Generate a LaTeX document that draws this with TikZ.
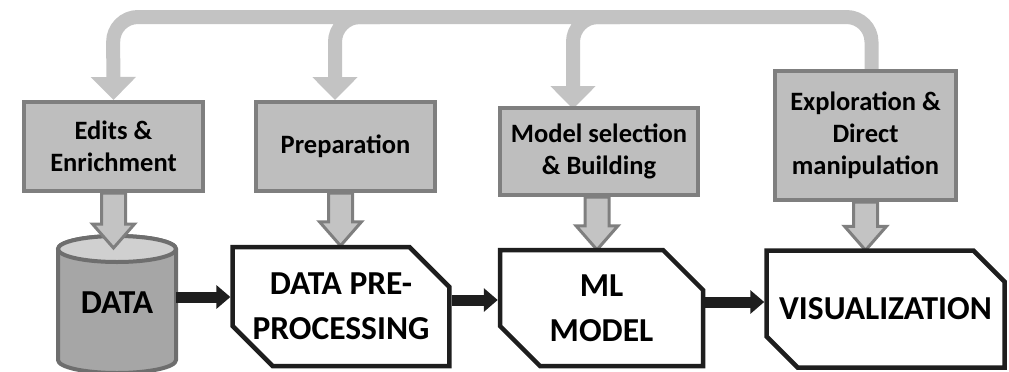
\documentclass[tikz,border=0pt]{standalone}
\usepackage{fontspec}
\setmainfont{Carlito}
\usetikzlibrary{arrows.meta,shapes.misc,backgrounds,calc}
\definecolor{boxfill}{HTML}{BEBEBE}
\definecolor{boxline}{HTML}{7F7F7F}
\definecolor{loopcol}{HTML}{C3C3C3}
\definecolor{cylbody}{HTML}{A6A6A6}
\definecolor{cyltop}{HTML}{D0D0D0}
\definecolor{cylline}{HTML}{6E6E6E}
\definecolor{darkline}{HTML}{1E1E1E}
\newcommand\blockarr[2]{%
  \path[blockarrow] let \p1=(#1), \p2=(#2) in
    (\x1-12pt,\y1) -- (\x1-12pt,\y2+24pt) -- (\x1-21pt,\y2+24pt) -- (\x1,\y2)
    -- (\x1+21pt,\y2+24pt) -- (\x1+12pt,\y2+24pt) -- (\x1+12pt,\y1) -- cycle;}
\begin{document}
\begin{tikzpicture}[x=1pt,y=1pt,
  gbox/.style={draw=boxline, fill=boxfill, line width=4pt, align=center,
    inner sep=0pt, font=\fontsize{26.5}{32}\selectfont\bfseries},
  cbox/.style={chamfered rectangle,
    chamfered rectangle corners={north east,south west},
    chamfered rectangle xsep=20pt, chamfered rectangle ysep=20pt,
    draw=darkline, line width=4.5pt, fill=white, align=center, inner sep=0pt,
    font=\fontsize{33.5}{45}\selectfont\bfseries},
  loopline/.style={draw=loopcol, line width=14pt, rounded corners=25pt},
  looptip/.style={-{Triangle[width=44pt,length=23pt]}},
  blockarrow/.style={fill=loopcol, draw=boxline, line width=3pt, line join=miter},
  blk/.style={draw=darkline, line width=11pt, -{Triangle[width=23pt,length=14pt]}}
]
\useasboundingbox (0,0) rectangle (1009,-372);

% upper gray boxes
\node[gbox, minimum width=179pt, minimum height=89pt] (edits) at (113.5,-146.5) {Edits \&\\Enrichment};
\node[gbox, minimum width=179pt, minimum height=89pt] (prep) at (345.5,-146.5) {Preparation};
\node[gbox, minimum width=198pt, minimum height=87pt] (modsel) at (599,-151.5) {Model selection\\\& Building};
\node[gbox, minimum width=181pt, minimum height=129pt] (explo) at (865.5,-135.5) {Exploration \&\\Direct\\manipulation};

% data cylinder
\node[minimum width=118pt, minimum height=130pt, inner sep=0pt,
  font=\fontsize{33.5}{45}\selectfont\bfseries] (data) at (117,-303) {DATA};
\begin{scope}[on background layer]
  \path[fill=cylbody, draw=cylline, line width=4pt]
    (58,-249) -- (58,-360) arc[start angle=180, end angle=360, x radius=59, y radius=13]
    -- (176,-249) arc[start angle=0, end angle=180, x radius=59, y radius=13];
  \path[fill=cyltop, draw=cylline, line width=4pt]
    (117,-249) ellipse[x radius=59, y radius=13];
\end{scope}

% lower white boxes
\node[cbox, minimum width=208pt, minimum height=119pt] (pre) at (341,-306.5) {DATA PRE-\\PROCESSING};
\node[cbox, minimum width=203pt, minimum height=116pt] (ml) at (601.5,-308) {ML\\MODEL};
\node[cbox, minimum width=238pt, minimum height=117pt] (vis) at (885.5,-309) {VISUALIZATION};

% top feedback loop
\begin{scope}[on background layer]
  \draw[loopline, looptip] ([xshift=6pt]explo.north) -- ++(0,-1) |- (113,-17) -- (edits.north);
  \draw[loopline, looptip] (380,-17) -- (335,-17) -- ([xshift=-10.5pt]prep.north);
  \draw[loopline, looptip] (620,-17) -- (573,-17) -- ([xshift=-26pt,yshift=-3pt]modsel.north);
\end{scope}

% block arrows from the gray boxes
\begin{scope}[on background layer]
  \blockarr{edits.south}{117,-248}
  \blockarr{[xshift=-5pt]prep.south}{$(pre.north)+(0,-1)$}
  \blockarr{[xshift=-2pt]modsel.south}{$(ml.north)+(-2,-2)$}
  \blockarr{explo.south}{$(explo.south |- vis.north)+(0,-2)$}
\end{scope}

% black flow arrows
\draw[blk] (data.east |- 0,-297) -- (pre.west |- 0,-297);
\draw[blk] (pre.east |- 0,-300) -- (ml.west |- 0,-300);
\draw[blk] (ml.east |- 0,-302) -- (vis.west |- 0,-302);
\end{tikzpicture}
\end{document}
